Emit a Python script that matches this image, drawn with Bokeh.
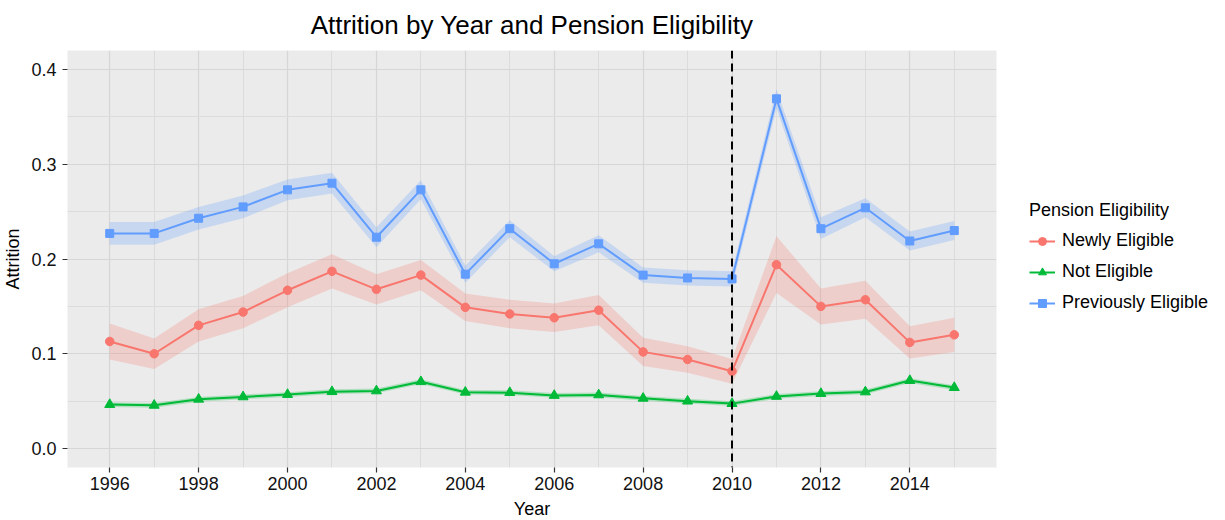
from bokeh.plotting import figure
from bokeh.models import (Range1d, FixedTicker, PrintfTickFormatter, Legend, LegendItem, Span)
from bokeh.embed import file_html
from bokeh.resources import INLINE

years = list(range(1996, 2016))

newly = [0.113, 0.100, 0.130, 0.144, 0.167, 0.187, 0.168, 0.183, 0.149, 0.142,
         0.138, 0.146, 0.102, 0.094, 0.0815, 0.194, 0.150, 0.157, 0.112, 0.120]
newly_lo = [0.094, 0.084, 0.113, 0.127, 0.149, 0.169, 0.152, 0.167, 0.1345, 0.127,
            0.123, 0.130, 0.087, 0.080, 0.0685, 0.164, 0.131, 0.137, 0.095, 0.102]
newly_hi = [0.132, 0.116, 0.147, 0.161, 0.185, 0.205, 0.184, 0.199, 0.1635, 0.157,
            0.153, 0.162, 0.117, 0.108, 0.0945, 0.224, 0.169, 0.177, 0.129, 0.138]

not_el = [0.0464, 0.0456, 0.052, 0.0545, 0.057, 0.060, 0.0608, 0.0705, 0.0594, 0.059,
          0.056, 0.0566, 0.053, 0.050, 0.0474, 0.055, 0.058, 0.0597, 0.0717, 0.0643]
not_lo = [0.0439, 0.0431, 0.0495, 0.052, 0.0545, 0.0575, 0.0583, 0.068, 0.0569, 0.0565,
          0.0535, 0.0541, 0.0505, 0.0475, 0.0449, 0.0525, 0.0555, 0.0572, 0.0692, 0.0618]
not_hi = [0.0489, 0.0481, 0.0545, 0.057, 0.0595, 0.0625, 0.0633, 0.073, 0.0619, 0.0615,
          0.0585, 0.0591, 0.0555, 0.0525, 0.0499, 0.0575, 0.0605, 0.0622, 0.0742, 0.0668]

prev = [0.227, 0.227, 0.243, 0.255, 0.273, 0.280, 0.223, 0.273, 0.184, 0.232,
        0.195, 0.216, 0.183, 0.180, 0.179, 0.369, 0.232, 0.254, 0.219, 0.230]
prev_lo = [0.215, 0.215, 0.231, 0.243, 0.262, 0.269, 0.2125, 0.263, 0.175, 0.223,
           0.187, 0.207, 0.175, 0.172, 0.171, 0.359, 0.221, 0.244, 0.209, 0.220]
prev_hi = [0.239, 0.239, 0.255, 0.267, 0.284, 0.291, 0.2335, 0.283, 0.193, 0.241,
           0.203, 0.225, 0.191, 0.188, 0.187, 0.379, 0.244, 0.264, 0.229, 0.240]

title_text = "Attrition by Year and Pension Eligibility"
series_names = ["Newly Eligible", "Not Eligible", "Previously Eligible"]
x_ticks = [1996, 1998, 2000, 2002, 2004, 2006, 2008, 2010, 2012, 2014]
x_minor = [1997, 1999, 2001, 2003, 2005, 2007, 2009, 2011, 2013, 2015]
y_ticks = [0.0, 0.1, 0.2, 0.3, 0.4]
y_minor = [0.05, 0.15, 0.25, 0.35]
cutoff_year = 2010

FONT = "Liberation Sans"
colors = ["#F8766D", "#00BA38", "#619CFF"]
markers = ["circle", "triangle", "square"]
msizes = [8.5, 10, 8]

p = figure(frame_width=929, frame_height=417,
           x_range=Range1d(1995.05, 2015.95), y_range=Range1d(-0.02, 0.42),
           output_backend="svg", toolbar_location=None,
           min_border_left=59, min_border_top=50, min_border_bottom=40, min_border_right=221)

p.background_fill_color = "#EBEBEB"
p.border_fill_color = "white"
p.outline_line_color = None

p.title.text = title_text
p.title.align = "center"
p.title.vertical_align = "top"
p.title.text_font = FONT
p.title.text_font_size = "26px"
p.title.text_font_style = "normal"
p.title.text_color = "black"
p.title.standoff = 18

p.xaxis.ticker = FixedTicker(ticks=x_ticks, minor_ticks=x_minor)
p.yaxis.ticker = FixedTicker(ticks=y_ticks, minor_ticks=y_minor)
p.xaxis.formatter = PrintfTickFormatter(format="%d")
p.yaxis.formatter = PrintfTickFormatter(format="%.1f")
for ax in (p.xaxis, p.yaxis):
    ax.axis_line_color = None
    ax.minor_tick_line_color = None
    ax.major_tick_in = 0
    ax.major_tick_out = 5
    ax.major_tick_line_color = "#333333"
    ax.major_tick_line_width = 1.2
    ax.major_label_text_font = FONT
    ax.major_label_text_font_size = "18px"
    ax.major_label_text_color = "#111111"
    ax.axis_label_text_font = FONT
    ax.axis_label_text_font_size = "18px"
    ax.axis_label_text_font_style = "normal"
    ax.axis_label_text_color = "black"
p.xaxis.axis_label = "Year"
p.yaxis.axis_label = "Attrition"
p.xaxis.major_label_standoff = 4
p.yaxis.major_label_standoff = 6
p.xaxis.axis_label_standoff = 6
p.yaxis.axis_label_standoff = 5

for g in (p.xgrid, p.ygrid):
    g.grid_line_color = "#D6D6D6"
    g.grid_line_width = 1.2
    g.minor_grid_line_color = "#DCDCDC"
    g.minor_grid_line_width = 1

data = [(newly, newly_lo, newly_hi), (not_el, not_lo, not_hi), (prev, prev_lo, prev_hi)]

for (vals, lo, hi), c in zip(data, colors):
    p.varea(x=years, y1=lo, y2=hi, fill_color=c, fill_alpha=0.25)

items = []
for (vals, lo, hi), c, m, s, name in zip(data, colors, markers, msizes, series_names):
    ln = p.line(years, vals, line_color=c, line_width=2)
    sc = p.scatter(years, vals, marker=m, size=s, fill_color=c, line_color=c)
    items.append(LegendItem(label=name, renderers=[ln, sc]))

vline = Span(location=cutoff_year, dimension="height", line_color="black",
             line_dash="8 5", line_width=2)
p.add_layout(vline)

legend = Legend(items=items, title="Pension Eligibility", location=(33, 154))
legend.title_text_font = FONT
legend.title_text_font_size = "18px"
legend.title_text_font_style = "normal"
legend.title_text_color = "black"
legend.title_standoff = 9
legend.label_text_font = FONT
legend.label_text_font_size = "18px"
legend.label_text_color = "black"
legend.glyph_width = 26
legend.glyph_height = 20
legend.label_height = 20
legend.label_standoff = 7
legend.spacing = 10
legend.padding = 6
legend.margin = 0
legend.border_line_color = None
legend.background_fill_color = "white"
p.add_layout(legend, "right")

open("out.html", "w").write(file_html(p, INLINE))
